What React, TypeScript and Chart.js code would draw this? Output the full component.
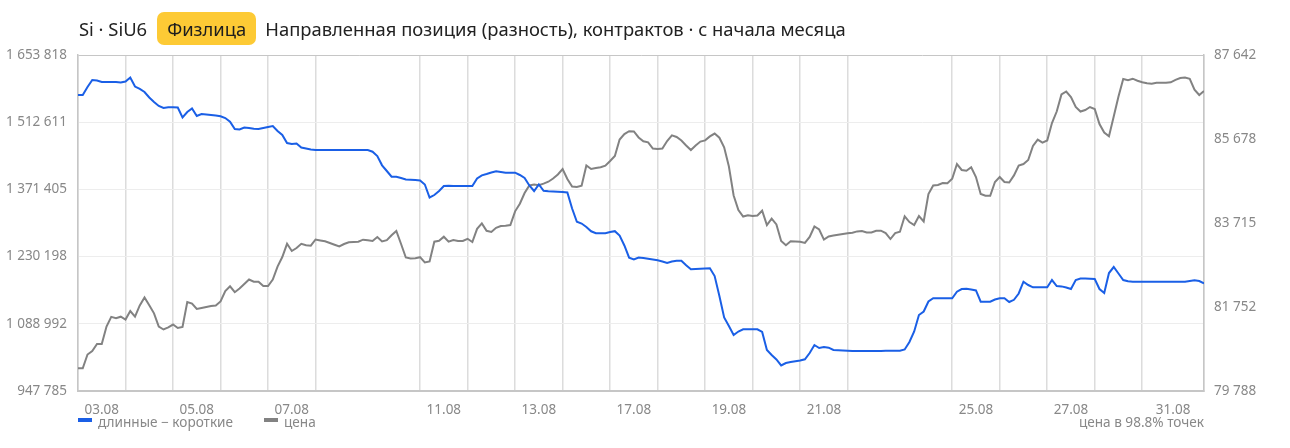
import React, { useEffect, useRef } from "react";
import { Chart, registerables } from "chart.js";

Chart.register(...registerables);

// Trading days and number of observations per day
const days = ["03.08", "04.08", "05.08", "06.08", "07.08", "10.08", "11.08", "12.08", "13.08", "14.08", "17.08", "18.08", "19.08", "20.08", "21.08", "24.08", "25.08", "26.08", "27.08", "28.08", "31.08"];
const pointsPerDay = [10, 10, 10, 10, 10, 22, 10, 10, 10, 10, 10, 10, 10, 10, 10, 22, 10, 10, 10, 10, 14];
const labelledDays = ["03.08", "05.08", "07.08", "11.08", "13.08", "17.08", "19.08", "21.08", "25.08", "27.08", "31.08"];

// Net position (longs - shorts), contracts
const netPosition = [
  1569800, 1569800, 1586600, 1601300, 1600200, 1597100, 1597100, 1597100, 1597100, 1596000,
  1598100, 1606500, 1587600, 1582400, 1576100, 1564500, 1555100, 1546700, 1542400, 1543900,
  1543900, 1543500, 1522500, 1534000, 1541400, 1525600, 1529800, 1528800, 1527700, 1526700,
  1525000, 1521400, 1513700, 1498300, 1497300, 1501500, 1500400, 1499000, 1498300, 1500400,
  1502500, 1504600, 1494100, 1485700, 1468900, 1466800, 1467900, 1459400, 1457300, 1455200,
  1454200, 1454200, 1454200, 1454200, 1454200, 1454200, 1454200, 1454200, 1454200, 1454200,
  1454200, 1454200, 1450600, 1441600, 1422000, 1410100, 1398100, 1398100, 1395400, 1392200,
  1391600, 1391200, 1390100, 1381700, 1354400, 1359600, 1368000, 1378500, 1379000, 1378500,
  1378500, 1378500, 1378500, 1378500, 1394300, 1401000, 1403800, 1406900, 1409600, 1408000,
  1406500, 1406500, 1406500, 1401700, 1395400, 1379600, 1368000, 1381700, 1368500, 1367600,
  1367000, 1366400, 1365900, 1364900, 1331300, 1303500, 1299700, 1292400, 1283400, 1279200,
  1279200, 1279200, 1281900, 1283600, 1274500, 1253500, 1227900, 1224100, 1228300, 1227300,
  1225600, 1224100, 1222400, 1219900, 1216700, 1219900, 1221600, 1221600, 1211900, 1203500,
  1204100, 1204600, 1205200, 1205600, 1189400, 1147400, 1102200, 1084400, 1065500, 1072800,
  1077400, 1077400, 1077400, 1077400, 1071800, 1033900, 1023400, 1014000, 1001400, 1006600,
  1008700, 1010200, 1011900, 1014400, 1027600, 1044400, 1038100, 1040200, 1038800, 1033900,
  1033500, 1032900, 1032500, 1031800, 1031800, 1031800, 1032000, 1031800, 1031800, 1032000,
  1032200, 1032200, 1032400, 1032500, 1035000, 1050700, 1072800, 1107500, 1114800, 1135800,
  1142600, 1142600, 1142600, 1142600, 1142600, 1156400, 1162100, 1162700, 1161100, 1159000,
  1135400, 1135400, 1135400, 1140000, 1142600, 1142600, 1134800, 1139400, 1152700, 1177500,
  1170500, 1165700, 1165700, 1165700, 1165700, 1181000, 1168400, 1167600, 1165300, 1162100,
  1181000, 1184000, 1184200, 1183800, 1183100, 1162100, 1153700, 1195700, 1208300, 1194700,
  1181000, 1178300, 1177500, 1177500, 1177500, 1177500, 1177500, 1177500, 1177500, 1177500,
  1177500, 1177500, 1177500, 1177500, 1178900, 1180400, 1178900, 1173700,
];

// Futures price
const price = [
  80319, 80319, 80641, 80723, 80887, 80887, 81296, 81520, 81490, 81525,
  81459, 81658, 81525, 81787, 81974, 81791, 81604, 81296, 81226, 81277,
  81342, 81261, 81284, 81868, 81833, 81705, 81728, 81752, 81775, 81787,
  81880, 82126, 82235, 82098, 82184, 82289, 82394, 82343, 82343, 82242,
  82242, 82394, 82694, 82920, 83229, 83061, 83131, 83229, 83194, 83184,
  83329, 83308, 83287, 83248, 83208, 83166, 83224, 83264, 83271, 83276,
  83325, 83311, 83294, 83388, 83283, 83313, 83430, 83528, 83224, 82909,
  82885, 82890, 82916, 82792, 82815, 83278, 83299, 83395, 83278, 83318,
  83294, 83294, 83346, 83271, 83579, 83706, 83533, 83505, 83603, 83645,
  83652, 83668, 83988, 84166, 84416, 84594, 84615, 84596, 84634, 84680,
  84755, 84849, 84977, 84744, 84568, 84557, 84587, 85059, 84977, 85001,
  85019, 85054, 85164, 85281, 85667, 85795, 85861, 85854, 85714, 85625,
  85601, 85456, 85445, 85456, 85632, 85763, 85725, 85643, 85527, 85421,
  85527, 85618, 85646, 85739, 85805, 85709, 85484, 85036, 84358, 84019,
  83865, 83897, 83879, 83890, 84003, 83668, 83818, 83680, 83294, 83194,
  83287, 83283, 83278, 83248, 83388, 83633, 83563, 83327, 83402, 83421,
  83439, 83458, 83474, 83488, 83519, 83528, 83495, 83493, 83535, 83535,
  83481, 83341, 83481, 83512, 83872, 83738, 83668, 83879, 83750, 84393,
  84592, 84603, 84650, 84643, 84748, 85094, 84954, 84935, 85017, 84790,
  84393, 84351, 84351, 84673, 84790, 84673, 84662, 84828, 85059, 85094,
  85188, 85515, 85664, 85592, 85643, 86052, 86321, 86719, 86789, 86660,
  86426, 86321, 86356, 86426, 86380, 86029, 85830, 85742, 86204, 86672,
  87081, 87055, 87088, 87041, 87006, 86980, 86971, 86994, 86994, 86994,
  87004, 87062, 87104, 87116, 87086, 86831, 86707, 86800,
];

const leftTicks = [947785, 1088992, 1230198, 1371405, 1512611, 1653818];
const rightTicks = [79788, 81752, 83715, 85678, 87642];

const BLUE = "#1a5fe6";
const GRAY = "#828282";
const FONT = "'Noto Sans', 'DejaVu Sans', sans-serif";

const fmt = (v: number) => String(Math.round(v)).replace(/\B(?=(\d{3})+(?!\d))/g, " ");

export default function App() {
  const canvasRef = useRef<HTMLCanvasElement | null>(null);

  useEffect(() => {
    if (!canvasRef.current) return;

    // day start indices
    const starts: number[] = [];
    let acc = 0;
    pointsPerDay.forEach((n) => {
      starts.push(acc);
      acc += n;
    });
    const lastIndex = acc - 1;
    const boundaries = [...starts, lastIndex];
    const labelAt = new Map<number, string>();
    days.forEach((d, i) => {
      if (labelledDays.includes(d)) {
        const end = i + 1 < starts.length ? starts[i + 1] : lastIndex;
        labelAt.set(starts[i] + (end - starts[i]) / 2, d);
      }
    });
    const xTicks = [...boundaries, ...Array.from(labelAt.keys())].sort((a, b) => a - b);

    const chart = new Chart(canvasRef.current, {
      type: "line",
      data: {
        datasets: [
          {
            label: "длинные − короткие",
            data: netPosition.map((y, i) => ({ x: i, y })),
            borderColor: BLUE,
            borderWidth: 2,
            pointRadius: 0,
            tension: 0,
            yAxisID: "y",
          },
          {
            label: "цена",
            data: price.map((y, i) => ({ x: i, y })),
            borderColor: GRAY,
            borderWidth: 2,
            pointRadius: 0,
            tension: 0,
            yAxisID: "y1",
          },
        ],
      },
      options: {
        animation: false,
        responsive: true,
        maintainAspectRatio: false,
        layout: { padding: { top: 55, left: 0, right: 0, bottom: 0 } },
        plugins: { legend: { display: false }, tooltip: { enabled: false } },
        scales: {
          x: {
            type: "linear",
            min: 0,
            max: lastIndex,
            afterBuildTicks: (s: any) => {
              s.ticks = xTicks.map((v) => ({ value: v }));
            },
            afterFit: (s: any) => {
              s.height = 57;
            },
            ticks: {
              autoSkip: false,
              maxRotation: 0,
              padding: 11,
              color: "#888888",
              font: { family: FONT, size: 13.5 },
              callback: (v: any) => labelAt.get(Number(v)) ?? "",
            },
            grid: {
              drawTicks: false,
              lineWidth: 1.5,
              color: (ctx: any) => (ctx.tick && labelAt.has(ctx.tick.value) ? "rgba(0,0,0,0)" : "#dcdcdc"),
            },
            border: { display: true, color: "#c6c6c6", width: 2 },
          },
          y: {
            type: "linear",
            position: "left",
            min: leftTicks[0],
            max: leftTicks[leftTicks.length - 1],
            afterBuildTicks: (s: any) => {
              s.ticks = leftTicks.map((v) => ({ value: v }));
            },
            afterFit: (s: any) => {
              s.width = 78;
            },
            ticks: {
              padding: 11,
              color: "#888888",
              font: { family: FONT, size: 13.5 },
              callback: (v: any) => fmt(Number(v)),
            },
            grid: {
              drawTicks: false,
              lineWidth: 1,
              color: (ctx: any) =>
                ctx.tick && ctx.tick.value === leftTicks[leftTicks.length - 1] ? "#c6c6c6" : "#ededed",
            },
            border: { display: true, color: "#c6c6c6", width: 1.5 },
          },
          y1: {
            type: "linear",
            position: "right",
            min: rightTicks[0],
            max: rightTicks[rightTicks.length - 1],
            afterBuildTicks: (s: any) => {
              s.ticks = rightTicks.map((v) => ({ value: v }));
            },
            afterFit: (s: any) => {
              s.width = 86;
            },
            ticks: {
              padding: 10,
              color: "#888888",
              font: { family: FONT, size: 13.5 },
              callback: (v: any) => fmt(Number(v)),
            },
            grid: { display: false, drawTicks: false },
            border: { display: true, color: "#c6c6c6", width: 1.5 },
          },
        },
      },
    });

    return () => chart.destroy();
  }, []);

  const legendText: React.CSSProperties = {
    position: "absolute",
    top: 413,
    fontFamily: FONT,
    fontSize: 13.6,
    lineHeight: "18px",
    color: "#888888",
    whiteSpace: "nowrap",
  };

  return (
    <div style={{ position: "absolute", left: 0, top: 0, width: 1290, height: 448, background: "#fff", overflow: "hidden" }}>
      <div style={{ position: "absolute", left: 0, top: 0, width: 1290, height: 448 }}>
        <canvas ref={canvasRef} />
      </div>
      <div
        style={{
          position: "absolute",
          left: 79,
          top: 12,
          height: 33,
          display: "flex",
          alignItems: "center",
          fontFamily: FONT,
          fontSize: 18.4,
          color: "#222",
          whiteSpace: "nowrap",
        }}
      >
        <span>Si · SiU6</span>
        <span
          style={{
            marginLeft: 10,
            background: "#fdca35",
            borderRadius: 7,
            height: 33,
            lineHeight: "33px",
            padding: "0 10px 0 10px",
            color: "#1d1d1d",
          }}
        >
          Физлица
        </span>
        <span style={{ marginLeft: 9 }}>Направленная позиция (разность), контрактов · с начала месяца</span>
      </div>
      <div style={{ position: "absolute", left: 78, top: 418, width: 14, height: 3.5, background: BLUE }} />
      <div style={{ ...legendText, left: 98 }}>длинные − короткие</div>
      <div style={{ position: "absolute", left: 264, top: 418, width: 14, height: 3.5, background: GRAY }} />
      <div style={{ ...legendText, left: 284 }}>цена</div>
      <div style={{ ...legendText, right: 86, textAlign: "right" }}>цена в 98.8% точек</div>
    </div>
  );
}
